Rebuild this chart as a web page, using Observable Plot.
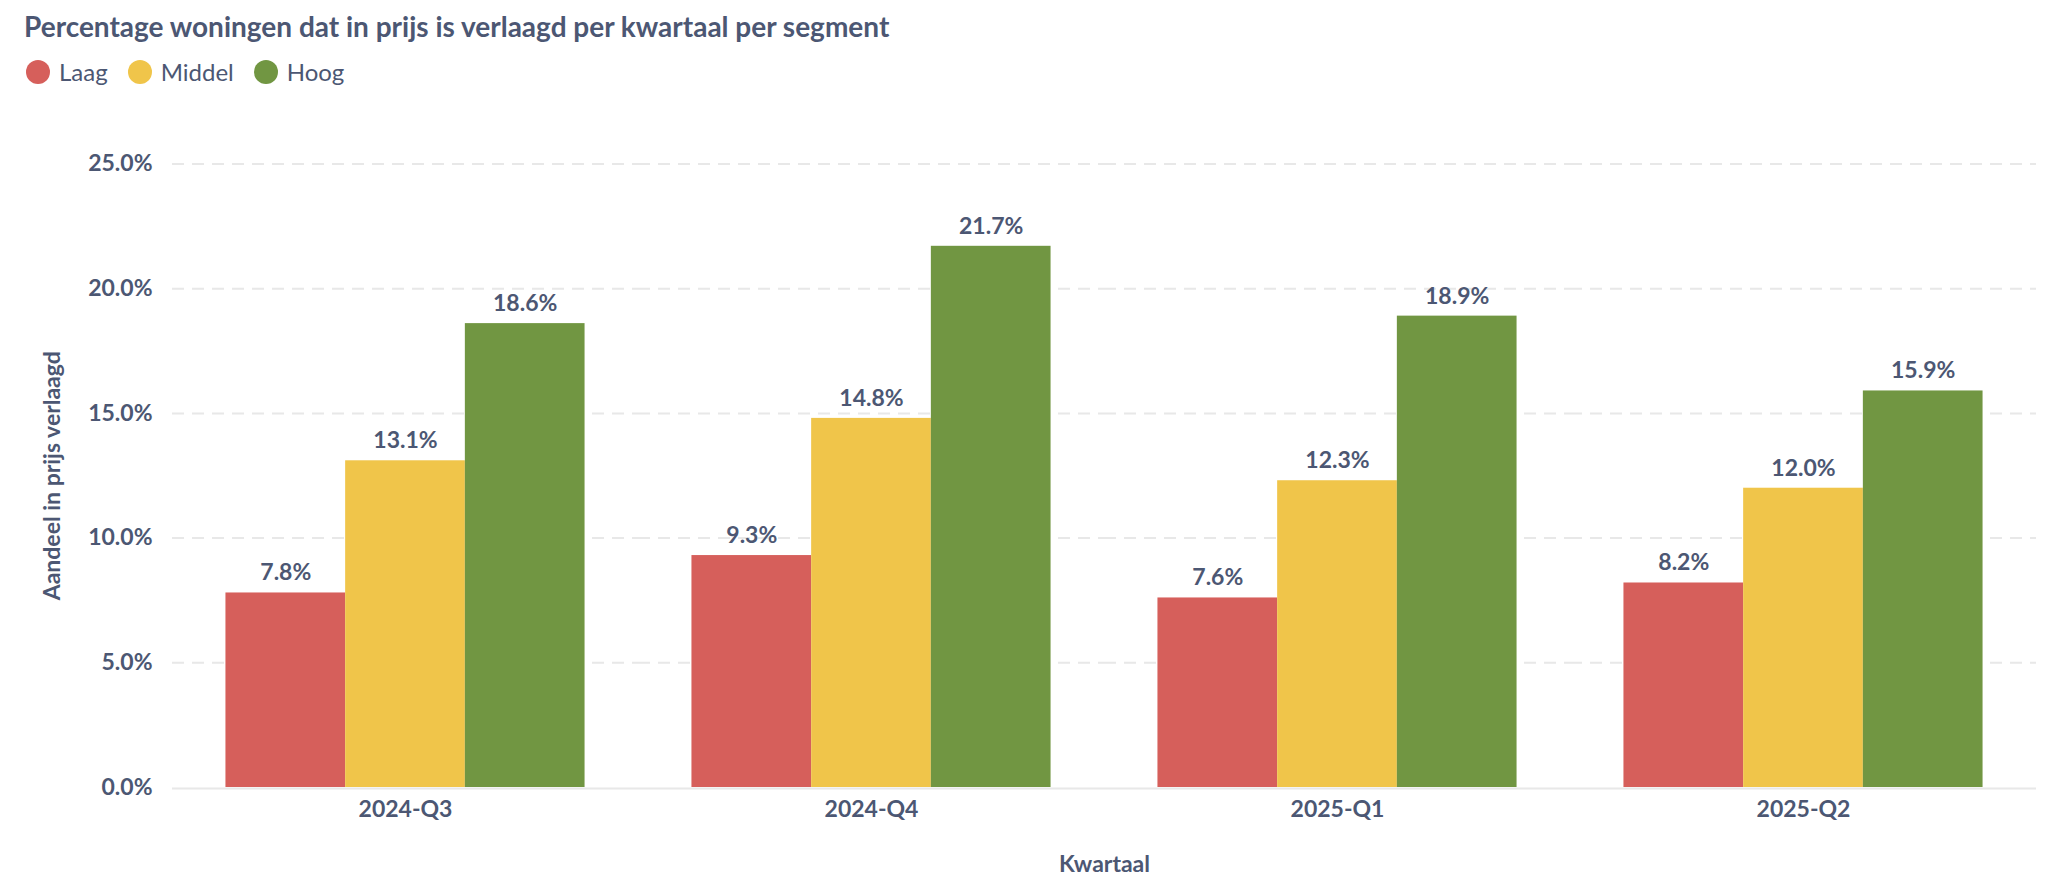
<!DOCTYPE html>
<html>
<head>
<meta charset="utf-8">
<script src="https://cdn.jsdelivr.net/npm/d3@7"></script>
<script src="https://cdn.jsdelivr.net/npm/@observablehq/plot@0.6"></script>
<style>
  body { margin: 0; background: #fff; font-family: Lato, sans-serif; color: #4c5773; }
  #wrap { position: relative; width: 2068px; height: 888px; overflow: hidden; }
  #title { position: absolute; left: 24px; top: 8px; font-size: 28px; font-weight: 700; line-height: 36px; white-space: nowrap; }
  #legend { position: absolute; left: 26px; top: 57px; height: 30px; display: flex; align-items: center; font-size: 24px; line-height: 30px; }
  .item { display: flex; align-items: center; margin-right: 20px; }
  .dot { width: 24px; height: 24px; border-radius: 50%; margin-right: 9px; }
  #chart { position: absolute; left: 0; top: 100px; }
</style>
</head>
<body>
<div id="wrap">
  <div id="title">Percentage woningen dat in prijs is verlaagd per kwartaal per segment</div>
  <div id="legend"></div>
  <div id="chart"></div>
</div>
<script>
const quarters = ["2024-Q3", "2024-Q4", "2025-Q1", "2025-Q2"];
const segments = ["Laag", "Middel", "Hoog"];
const laag = [7.8, 9.3, 7.6, 8.2];
const middel = [13.1, 14.8, 12.3, 12.0];
const hoog = [18.6, 21.7, 18.9, 15.9];
const colors = ["#D65F5B", "#F0C54A", "#719642"];
const yTicks = [0, 5, 10, 15, 20, 25];

const series = [laag, middel, hoog];
const data = quarters.flatMap((q, i) =>
  segments.map((s, j) => ({quarter: q, segment: s, value: series[j][i]}))
);

const legend = document.getElementById("legend");
segments.forEach((s, j) => {
  const item = document.createElement("div");
  item.className = "item";
  const dot = document.createElement("div");
  dot.className = "dot";
  dot.style.background = colors[j];
  const lab = document.createElement("span");
  lab.textContent = s;
  item.appendChild(dot);
  item.appendChild(lab);
  legend.appendChild(item);
});

const fmt = d => d.toFixed(1) + "%";

const chart = Plot.plot({
  width: 2068,
  height: 788,
  marginTop: 63.5,
  marginBottom: 101,
  marginLeft: 172,
  marginRight: 32,
  style: {fontFamily: "Lato, sans-serif", fontSize: "23px", fontWeight: 700, color: "#4c5773", background: "white", overflow: "visible"},
  fx: {domain: quarters, padding: 0, round: false, axis: "bottom", label: "Kwartaal", labelAnchor: "center", labelOffset: 84, tickSize: 0, tickPadding: 13},
  x: {domain: segments, paddingInner: 0, paddingOuter: 0.4465, round: false, axis: null},
  y: {domain: [0, 25], ticks: yTicks, tickFormat: fmt, tickSize: 0, tickPadding: 20, label: "Aandeel in prijs verlaagd", labelArrow: "none", labelAnchor: "center", labelOffset: 129},
  color: {domain: segments, range: colors},
  marks: [
    Plot.ruleY(yTicks.filter(d => d > 0), {stroke: "#e8e8e8", strokeWidth: 2, strokeDasharray: "12,8"}),
    Plot.ruleY([0], {stroke: "#e8e8e8", strokeWidth: 2, dy: 1}),
    Plot.barY(data, {fx: "quarter", x: "segment", y: "value", fill: "segment"}),
    Plot.text(data, {fx: "quarter", x: "segment", y: "value", text: d => fmt(d.value), dy: -20, fill: "#4c5773"})
  ]
});
document.getElementById("chart").appendChild(chart);
</script>
</body>
</html>
